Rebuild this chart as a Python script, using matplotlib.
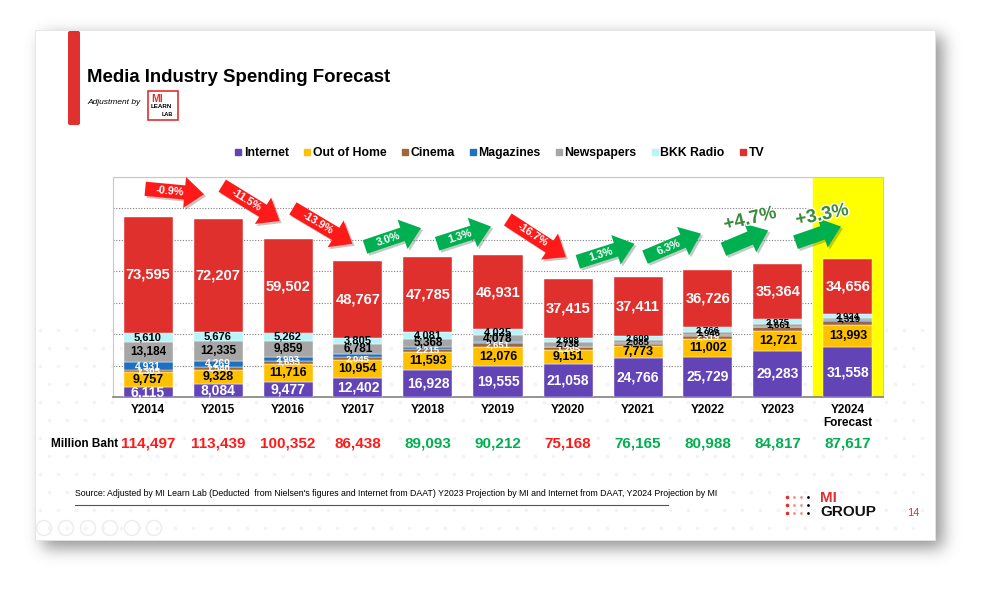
import numpy as np
import matplotlib.pyplot as plt
import matplotlib.transforms as mtransforms
import matplotlib.patheffects as pe
from matplotlib.patches import Rectangle, FancyBboxPatch, Circle
from matplotlib.lines import Line2D

plt.rcParams['font.family'] = ['Liberation Sans', 'DejaVu Sans']

years = ['Y2014', 'Y2015', 'Y2016', 'Y2017', 'Y2018', 'Y2019',
         'Y2020', 'Y2021', 'Y2022', 'Y2023', 'Y2024\nForecast']
internet = [6115, 8084, 9477, 12402, 16928, 19555, 21058, 24766, 25729, 29283, 31558]
out_of_home = [9757, 9328, 11716, 10954, 11593, 12076, 9151, 7773, 11002, 12721, 13993]
cinema = [1305, 1540, 1633, 2045, 2215, 2651, 1295, 1050, 2319, 2400, 2700]
magazines = [4931, 4269, 2903, 1684, 1123, 896, 613, 471, 500, 413, 467]
newspapers = [13184, 12335, 9859, 6781, 5368, 4078, 2738, 2085, 1946, 1661, 1319]
bkk_radio = [5610, 5676, 5262, 3805, 4081, 4025, 2898, 2609, 2766, 2975, 2924]
tv = [73595, 72207, 59502, 48767, 47785, 46931, 37415, 37411, 36726, 35364, 34656]
growth = ['-0.9%', '-11.5%', '-13.9%', '3.0%', '1.3%', '-16.7%',
          '1.3%', '6.3%', '+4.7%', '+3.3%']

series = [
    ('Internet', internet, '#6244B6', 'white', 10),
    ('Out of Home', out_of_home, '#FFC000', 'black', 9),
    ('Cinema', cinema, '#A0683A', 'white', 7.5),
    ('Magazines', magazines, '#1F70C1', 'white', 7.5),
    ('Newspapers', newspapers, '#A6A6A6', 'black', 8.5),
    ('BKK Radio', bkk_radio, '#B8F4F8', 'black', 8),
    ('TV', tv, '#E0302E', 'white', 10.5),
]
totals = np.sum([s[1] for s in series], axis=0)

RED = '#FF1A1A'
GREEN = '#00B050'

fig = plt.figure(figsize=(9.98, 6.02), dpi=100)

# Hintergrund in Pixelkoordinaten
bg = fig.add_axes([0, 0, 1, 1])
bg.set_xlim(0, 998)
bg.set_ylim(602, 0)
bg.axis('off')

# Schatten der Folie
mask = np.zeros((602, 998))
mask[36:548, 43:943] = 1.0
k = np.exp(-0.5 * (np.arange(-24, 25) / 8.0) ** 2)
k /= k.sum()
blur = np.apply_along_axis(lambda r: np.convolve(r, k, mode='same'), 1, mask)
blur = np.apply_along_axis(lambda c: np.convolve(c, k, mode='same'), 0, blur)
img = np.zeros((602, 998, 4))
img[..., :3] = 0.3
img[..., 3] = 0.6 * blur
bg.imshow(img, extent=(0, 998, 602, 0), zorder=0, interpolation='bilinear')
bg.add_patch(Rectangle((35, 30), 900, 510, facecolor='white', edgecolor='#e4e4e4',
                       lw=0.6, zorder=1))

# Punktmuster unten
xs, ys = [], []
for r, yy in enumerate(range(330, 540, 18)):
    off = 9 if r % 2 else 0
    for xx in range(40 + off, 930, 18):
        xs.append(xx)
        ys.append(yy)
bg.scatter(xs, ys, s=7, color='#f3f3f3', zorder=1.5, linewidths=0)

# roter Balken links
bg.add_patch(FancyBboxPatch((68, 31), 12, 94, boxstyle='round,pad=0,rounding_size=2',
                            facecolor='#E03030', edgecolor='none', zorder=2))

bg.text(87, 77, 'Media Industry Spending Forecast', fontsize=13.4, fontweight='bold',
        va='center', ha='left', zorder=3)
bg.text(87, 103, 'Adjustment by', fontsize=6, style='italic', va='center', zorder=3)
bg.add_patch(Rectangle((148, 91), 30, 29, facecolor='white', edgecolor='#E03030',
                       lw=1.2, zorder=3))
bg.text(151, 99, 'MI', fontsize=7.5, fontweight='bold', color='#E03030', va='center', zorder=4)
bg.text(151, 107, 'LEARN', fontsize=4.5, fontweight='bold', va='center', zorder=4)
bg.text(162, 114, 'LAB', fontsize=4, fontweight='bold', va='center', zorder=4)

# Diagramm
ax = fig.add_axes([113 / 998, 1 - 397 / 602, 770 / 998, 220 / 602])
ax.patch.set_alpha(0)
x = np.arange(len(years))
ax.set_xlim(-0.5, 10.5)
ax.set_ylim(0, 140000)
ax.axvspan(9.5, 10.5, color='#FFFF00', zorder=1)

bottom = np.zeros(len(years))
for name, vals, col, tcol, fs in series:
    vals = np.array(vals, dtype=float)
    ax.bar(x, vals, width=0.7, bottom=bottom, color=col, edgecolor='white',
           linewidth=0.3, zorder=3, label=name)
    for j, v in enumerate(vals):
        if name == 'Magazines' and v < 2000:
            continue
        if name == 'Cinema' and j in (7, 9, 10):
            continue
        size = fs if v >= 3500 or name in ('Internet', 'Out of Home', 'TV') else min(fs, 6.8)
        ax.text(j, bottom[j] + v / 2, f'{int(v):,}', ha='center', va='center',
                fontsize=size, fontweight='bold', color=tcol, zorder=4)
    bottom += vals

ax.set_yticks(range(0, 140001, 20000))
ax.yaxis.grid(True, linestyle=(0, (1, 1.5)), color='#808080', lw=0.8, zorder=0)
ax.set_axisbelow(True)
ax.tick_params(axis='y', left=False, labelleft=False)
ax.set_xticks(x)
ax.set_xticklabels(years, fontsize=8.5, fontweight='bold', linespacing=1.1)
ax.tick_params(axis='x', length=0, pad=5)
for s in ['left', 'top', 'right']:
    ax.spines[s].set_color('#c8c8c8')
ax.spines['bottom'].set_color('#808080')
ax.spines['bottom'].set_linewidth(1.2)

# Pfeile mit Wachstum (Lage in Datenkoordinaten)
arrow_layout = [
    (-0.04, 132500, 0.80, 129000),
    (1.06, 134500, 1.88, 112000),
    (2.07, 120000, 2.92, 97500),
    (3.10, 95500, 3.90, 107500),
    (4.13, 97500, 4.90, 108500),
    (5.14, 113000, 5.97, 89000),
    (6.14, 86000, 6.95, 97500),
    (7.10, 89000, 7.90, 104000),
    (8.22, 94000, 8.86, 106000),
    (9.25, 98500, 9.90, 108500),
]
shadow = [pe.withSimplePatchShadow(offset=(1.5, -1.5), alpha=0.25)]
for i, (g, (x0, y0, x1, y1)) in enumerate(zip(growth, arrow_layout)):
    col = RED if g.startswith('-') else GREEN
    ax.annotate('', xy=(x1, y1), xytext=(x0, y0), zorder=6, annotation_clip=False,
                arrowprops=dict(arrowstyle='simple,head_length=0.85,head_width=1.35,tail_width=0.62',
                                mutation_scale=16.5, fc=col, ec='none', shrinkA=0, shrinkB=0,
                                path_effects=shadow))
    p0 = ax.transData.transform((x0, y0))
    p1 = ax.transData.transform((x1, y1))
    ang = np.degrees(np.arctan2(p1[1] - p0[1], p1[0] - p0[0]))
    if g.startswith('+'):
        ax.text(x0 - 0.02, max(y0, y1) + 7000, g, rotation=ang * 0.6, fontsize=13.5,
                color='#3C8A3C', fontweight='bold', ha='left', va='center', zorder=7,
                path_effects=[pe.withStroke(linewidth=2, foreground='white')])
    else:
        t = 0.42
        ax.text(x0 + (x1 - x0) * t, y0 + (y1 - y0) * t, g, rotation=ang,
                rotation_mode='anchor', fontsize=7.8, color='white', fontweight='bold',
                ha='center', va='center', zorder=7)

handles = [Line2D([], [], marker='s', ls='', color=c, markersize=5) for _, _, c, _, _ in series]
fig.legend(handles, [s[0] for s in series], loc='center', bbox_to_anchor=(0.5, 1 - 153 / 602),
           ncol=7, frameon=False, prop={'weight': 'bold', 'size': 8.8},
           handletextpad=0.1, columnspacing=1.15, handlelength=0.7)

# Summen-Zeile
trans = mtransforms.blended_transform_factory(ax.transData, bg.transData)
bg.text(118, 444, 'Million Baht', fontsize=8.5, fontweight='bold', ha='right', va='center')
for j, tot in enumerate(totals):
    col = RED if j == 0 or growth[j - 1].startswith('-') else GREEN
    ax.text(j, 444, f'{int(tot):,}', transform=trans, fontsize=11, fontweight='bold',
            color=col, ha='center', va='center', clip_on=False)

bg.text(75, 493, "Source: Adjusted by MI Learn Lab (Deducted  from Nielsen's figures and Internet "
        "from DAAT) Y2023 Projection by MI and Internet from DAAT, Y2024 Projection by MI",
        fontsize=6.3, va='center', ha='left', zorder=3)
bg.plot([75, 668], [505, 505], color='#555555', lw=0.8, zorder=3)

# Logo MI GROUP
for c in range(4):
    for r in range(3):
        col = '#E03030' if c < 3 else 'black'
        a = 1.0 if c == 0 or c == 3 else 0.55
        bg.scatter(787 + c * 7, 497 + r * 8, s=4 if c else 7, color=col, alpha=a,
                   zorder=3, linewidths=0)
bg.text(820, 498, 'MI', fontsize=11, fontweight='bold', color='#E03030', va='center', zorder=3)
bg.text(820, 512, 'GROUP', fontsize=11, fontweight='bold', color='#111111', va='center', zorder=3)
bg.text(913, 513, '14', fontsize=8, color='#E03030', va='center', ha='center', zorder=3)

# Navigationssymbole
for cx in [44, 66, 88, 110, 132, 154]:
    bg.add_patch(Circle((cx, 528), 7.5, facecolor='none', edgecolor='#ececec', lw=1, zorder=3))

fig.savefig('out.png', dpi=100)
